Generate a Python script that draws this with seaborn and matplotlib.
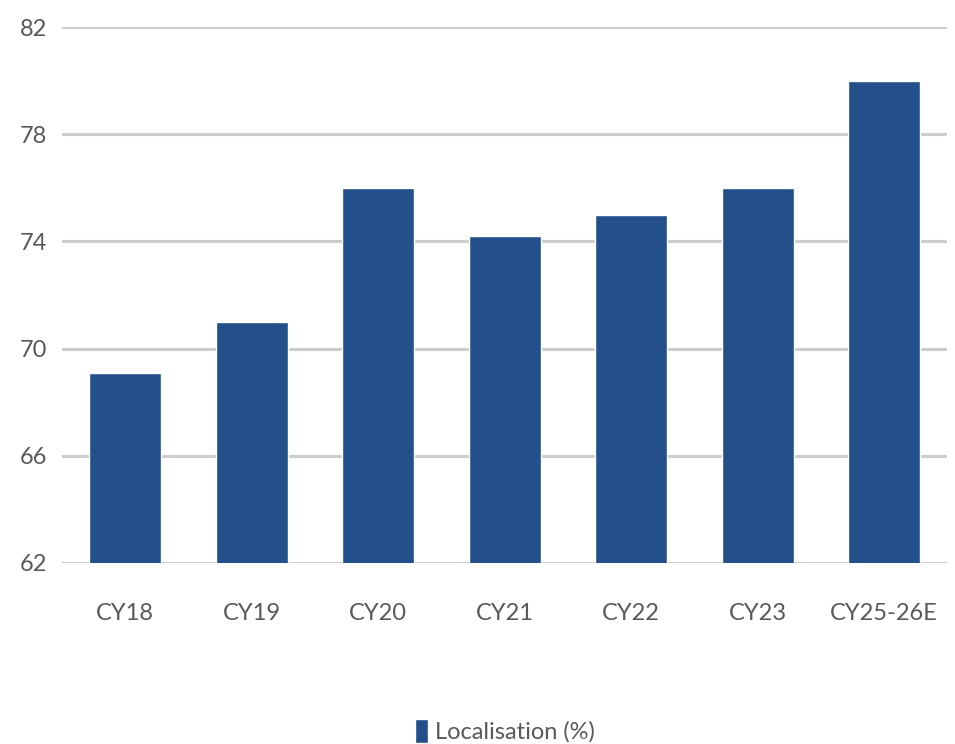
import matplotlib
matplotlib.use("Agg")
import matplotlib.pyplot as plt
import seaborn as sns
import pandas as pd

categories = ["CY18", "CY19", "CY20", "CY21", "CY22", "CY23", "CY25-26E"]
values = [69.1, 71.0, 76.0, 74.2, 75.0, 76.0, 80.0]
series_name = "Localisation (%)"
y_ticks = [62, 66, 70, 74, 78, 82]

bar_color = "#23508a"
grid_color = "#cdcdcd"
text_color = "#595959"

sns.set_theme(style="white")
plt.rcParams["font.family"] = ["Lato", "DejaVu Sans"]

df = pd.DataFrame({"category": categories, "value": values, "series": series_name})

fig = plt.figure(figsize=(9.55, 7.44), dpi=100)
ax = fig.add_axes([0.065, 0.2433, 0.927, 0.7204])

sns.barplot(data=df, x="category", y="value", hue="series", palette=[bar_color],
            saturation=1, width=0.57, ax=ax, zorder=3, legend=True)

ax.set_ylim(62, 82)
ax.set_yticks(y_ticks)
ax.set_xlim(-0.5, len(categories) - 0.5)
ax.yaxis.grid(True, color=grid_color, linewidth=2.2, zorder=0)
ax.set_axisbelow(True)
for s in ax.spines.values():
    s.set_visible(False)
ax.set_xlabel("")
ax.set_ylabel("")
ax.tick_params(axis="y", length=0, pad=11, labelsize=17, labelcolor=text_color)
ax.tick_params(axis="x", length=0, pad=29, labelsize=17, labelcolor=text_color)

leg = ax.legend(loc="lower center", bbox_to_anchor=(0.5, -0.375), frameon=False,
                fontsize=17, handlelength=0.55, handleheight=1.2, handletextpad=0.3,
                labelcolor=text_color)

fig.savefig("out.png", dpi=100)
